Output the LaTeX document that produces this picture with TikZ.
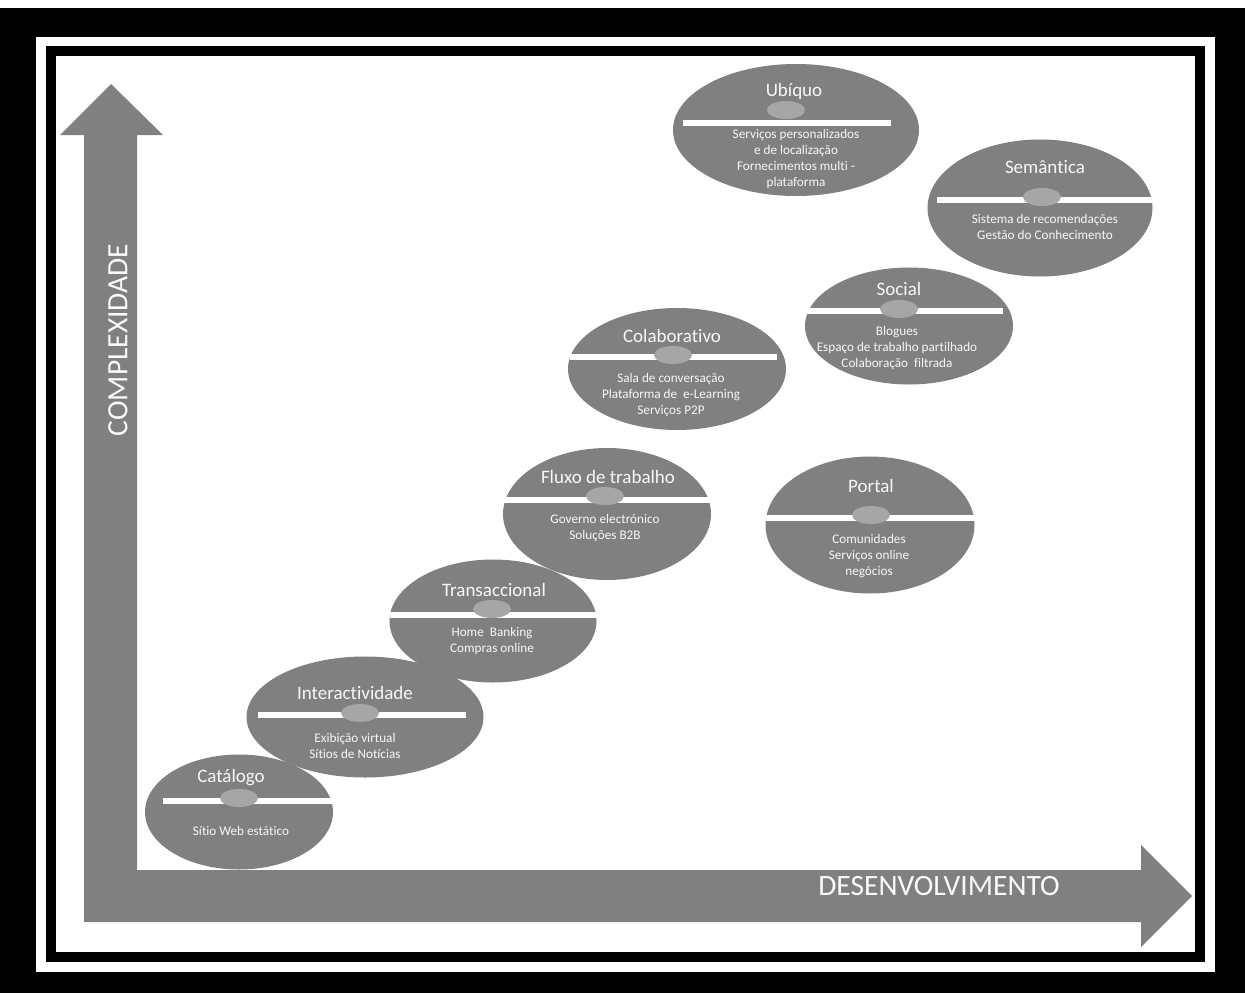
\documentclass[tikz,border=0pt]{standalone}
\usepackage{fontspec}
\setmainfont{Carlito}[Ligatures=NoCommon]
\usetikzlibrary{shapes.geometric}
\begin{document}
\begin{tikzpicture}[x=1pt,y=-1pt,
    stage/.style={ellipse,fill=gray,inner sep=0pt},
    knob/.style={ellipse,fill=gray!70,inner sep=0pt,minimum width=38,minimum height=18},
    title/.style={text=white!94!gray,font=\fontsize{19}{22}\selectfont},
    body/.style={text=white!94!gray,align=center,inner sep=0pt,font=\fontsize{13.2}{16}\selectfont},
    axis/.style={text=white!96!gray,font=\fontsize{29.5}{32}\selectfont}]
        \useasboundingbox (0,0) rectangle (1245,993);
        % frame
        \fill[black](0,8)rectangle(1245,993);
        \fill[white](36,37)rectangle(1215,972);
        \fill[black](46,46)rectangle(1205,962);
        \fill[white](56,56)rectangle(1195,952);
        % axes
        \fill[gray](84,922)--(84,135)--(60,135)--(111,84)--(163,135)--(137,135)--(137,870)--(1141,870)--(1141,845)--(1192,896)--(1141,947)--(1141,922)--cycle;
        \node[axis,rotate=90](yl)at(118,340){COMPLEXIDADE};
        \node[axis](xl)at(939,886){DESENVOLVIMENTO};
        % stages
        \node[stage,minimum width=246,minimum height=132](ubi)at(796,130){};
        \fill[white](683,120)rectangle(891,126);
        \node[knob](ubi-k)at(786,110){};
        \node[title](ubi-t)at(794,91){Ubíquo};
        \node[body](ubi-b)at(796,159){Serviços personalizados\\e de localização\\Fornecimentos multi -\\plataforma};

        \node[stage,minimum width=225,minimum height=137](sem)at(1040,208){};
        \fill[white](937,197)rectangle(1153,203);
        \node[knob](sem-k)at(1042,197){};
        \node[title](sem-t)at(1045,167){Semântica};
        \node[body](sem-b)at(1045,227){Sistema de recomendações\\Gestão do Conhecimento};

        \node[stage,minimum width=208,minimum height=117](soc)at(909,326){};
        \fill[white](806,308)rectangle(1003,314);
        \node[knob](soc-k)at(899,309){};
        \node[title](soc-t)at(899,289){Social};
        \node[body](soc-b)at(897,348){Blogues\\Espaço de trabalho partilhado\\Colaboração~ filtrada};

        \node[stage,minimum width=218,minimum height=122](col)at(677,369){};
        \fill[white](570,354)rectangle(777,360);
        \node[knob](col-k)at(673,355){};
        \node[title](col-t)at(672,336){Colaborativo};
        \node[body](col-b)at(671,395){Sala de conversação\\Plataforma de~ e-Learning\\Serviços P2P};

        \node[stage,minimum width=209,minimum height=137](por)at(870,525){};
        \fill[white](766,515)rectangle(975,521);
        \node[knob](por-k)at(871,515){};
        \node[title](por-t)at(871,486){Portal};
        \node[body](por-b)at(869,556){Comunidades\\Serviços online\\negócios};

        \node[stage,minimum width=208,minimum height=132](flu)at(607,514){};
        \fill[white](503,497)rectangle(711,503);
        \node[knob](flu-k)at(605,496){};
        \node[title](flu-t)at(608,477){Fluxo de trabalho};
        \node[body](flu-b)at(605,528){Governo electrónico\\Soluções B2B};

        \node[stage,minimum width=207,minimum height=123](tra)at(493,621){};
        \fill[white](390,612)rectangle(597,618);
        \node[knob](tra-k)at(492,609){};
        \node[title](tra-t)at(494,590){Transaccional};
        \node[body](tra-b)at(492,641){Home~ Banking\\Compras online};

        \node[stage,minimum width=237,minimum height=121](int)at(365,717){};
        \fill[white](258,712)rectangle(466,718);
        \node[knob](int-k)at(360,713){};
        \node[title](int-t)at(355,693){Interactividade};
        \node[body](int-b)at(355,746){Exibição virtual\\Sítios de Notícias};

        \node[stage,minimum width=188,minimum height=115](cat)at(239,812){};
        \fill[white](163,798)rectangle(333,804);
        \node[knob](cat-k)at(239,798){};
        \node[title](cat-t)at(231,778){Catálogo};
        \node[body](cat-b)at(241,831){Sítio Web estático};
    \end{tikzpicture}
\end{document}
